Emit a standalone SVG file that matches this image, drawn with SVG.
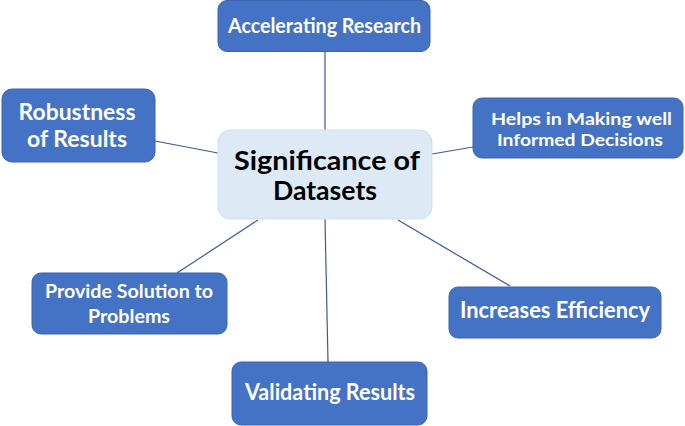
<svg xmlns="http://www.w3.org/2000/svg" width="685" height="426" viewBox="0 0 685 426">
<style>
.box{fill:#4472C4;stroke:#3A64B0;stroke-width:1}
.center{fill:#DDEAF6;stroke:#CFDFEF;stroke-width:1}
.t{fill:#FFFFFF;font-family:Lato,"Open Sans","Liberation Sans",sans-serif;font-weight:bold;text-anchor:middle}
.tc{fill:#000000;font-family:Lato,"Open Sans","Liberation Sans",sans-serif;font-weight:bold;text-anchor:middle}
.c{stroke:#3B5998;stroke-width:1.2;fill:none}
</style>
<rect width="685" height="426" fill="#FFFFFF"/>
<g id="connectors">
<line class="c" x1="325" y1="52" x2="325" y2="130"/>
<line class="c" x1="155" y1="141" x2="218" y2="153"/>
<line class="c" x1="432" y1="154" x2="473" y2="147"/>
<line class="c" x1="177" y1="273" x2="258" y2="220"/>
<line class="c" x1="510" y1="286" x2="398" y2="220"/>
<line class="c" x1="325" y1="219" x2="328" y2="362"/>
</g>
<g id="accelerating">
<rect class="box" x="218" y="0.5" width="212" height="51" rx="9"/>
<text class="t" x="324.5" y="33" font-size="20" textLength="193" lengthAdjust="spacingAndGlyphs">Accelerating Research</text>
</g>
<g id="robustness">
<rect class="box" x="2" y="89" width="153" height="73" rx="10"/>
<text class="t" x="77" y="120" font-size="23" textLength="117" lengthAdjust="spacingAndGlyphs">Robustness</text>
<text class="t" x="77" y="147" font-size="23" textLength="100" lengthAdjust="spacingAndGlyphs">of Results</text>
</g>
<g id="center">
<rect class="center" x="218" y="130" width="214" height="89" rx="12"/>
<text class="tc" x="327" y="170" font-size="27.5" textLength="186" lengthAdjust="spacingAndGlyphs">Significance of</text>
<text class="tc" x="325" y="200" font-size="27.5" textLength="104" lengthAdjust="spacingAndGlyphs">Datasets</text>
</g>
<g id="helps">
<rect class="box" x="473" y="98" width="210" height="60" rx="9"/>
<text class="t" x="581.5" y="125" font-size="17.5" textLength="181" lengthAdjust="spacingAndGlyphs">Helps in Making well</text>
<text class="t" x="580" y="146" font-size="17.5" textLength="166" lengthAdjust="spacingAndGlyphs">Informed Decisions</text>
</g>
<g id="provide">
<rect class="box" x="32" y="273" width="195" height="61" rx="9"/>
<text class="t" x="129" y="298" font-size="19" textLength="168" lengthAdjust="spacingAndGlyphs">Provide Solution to</text>
<text class="t" x="129" y="323" font-size="19" textLength="82" lengthAdjust="spacingAndGlyphs">Problems</text>
</g>
<g id="efficiency">
<rect class="box" x="449" y="287" width="212" height="51" rx="9"/>
<text class="t" x="555" y="318" font-size="22" textLength="190" lengthAdjust="spacingAndGlyphs">Increases Efficiency</text>
</g>
<g id="validating">
<rect class="box" x="232" y="362" width="195" height="63" rx="9"/>
<text class="t" x="330" y="400" font-size="22" textLength="170" lengthAdjust="spacingAndGlyphs">Validating Results</text>
</g>
</svg>
